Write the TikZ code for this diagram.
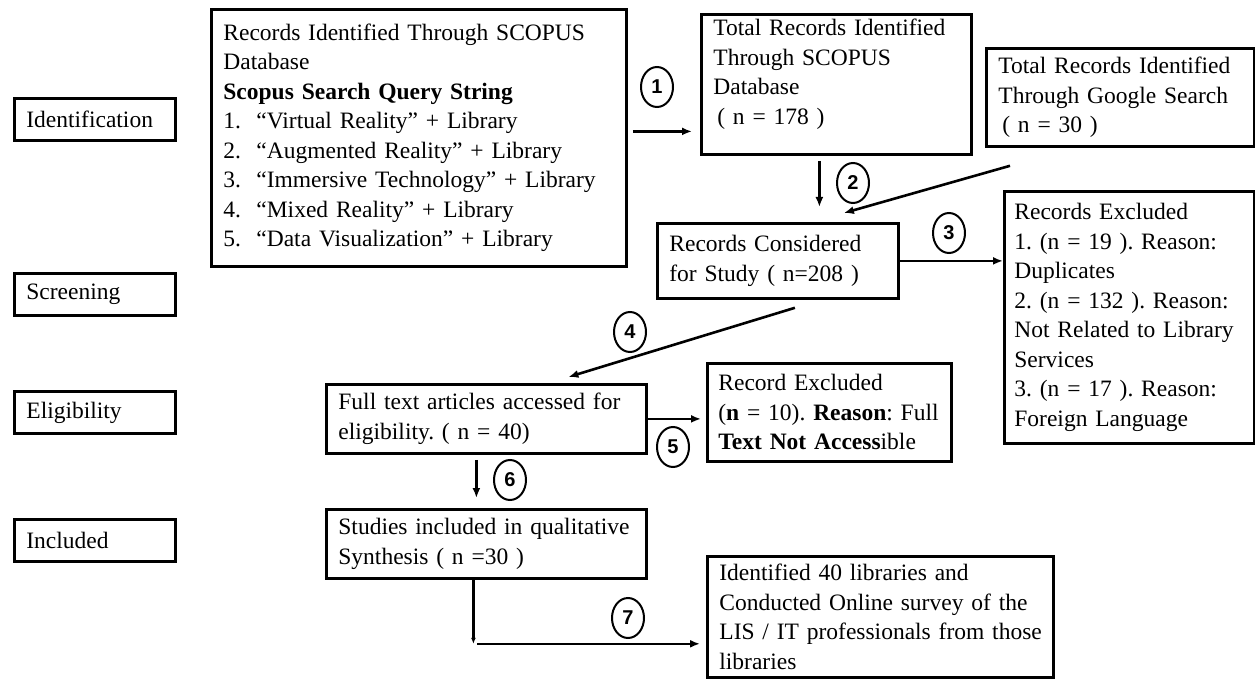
\documentclass[tikz,border=0pt]{standalone}
\usepackage{fontspec}
\setmainfont{Liberation Serif}
\newfontfamily\numfont{Liberation Sans}
\usetikzlibrary{arrows.meta,shapes.geometric,calc}

\tikzset{
	rbox/.style={draw, line width=2.8pt, anchor=north west, inner xsep=12pt, inner ysep=0pt, align=left, font=\fontsize{23.5}{29.5}\selectfont\frenchspacing},
	stage/.style={rbox, text width=137pt, minimum height=42pt},
	num/.style={draw, ellipse, line width=2pt, inner sep=0pt, minimum width=32pt, minimum height=40pt, font=\numfont\bfseries\fontsize{20}{20}\selectfont},
	arr/.style={line width=2.6pt, -{Latex[length=10pt,width=8pt]}},
}

\begin{document}
\begin{tikzpicture}[x=1pt, y=-1pt]
		\useasboundingbox (0,0) rectangle (1255,679);

		% stages
		\node[stage] (ident) at (13,97) {Identification};
		\node[stage] (screen) at (13,272) {Screening};
		\node[stage] (elig) at (13,390) {Eligibility};
		\node[stage] (incl) at (13,518) {Included};

		% boxes
		\node[rbox, text width=391pt, minimum height=257pt] (query) at (210,8) {Records Identified Through SCOPUS\\
			Database\\
			\textbf{Scopus Search Query String}\\
			\makebox[33pt][l]{1.}“Virtual Reality” + Library\\
			\makebox[33pt][l]{2.}“Augmented Reality” + Library\\
			\makebox[33pt][l]{3.}“Immersive Technology” + Library\\
			\makebox[33pt][l]{4.}“Mixed Reality” + Library\\
			\makebox[33pt][l]{5.}“Data Visualization” + Library};
		\node[rbox, text width=246pt, minimum height=140pt] (scopus) at (700,13) {Total Records Identified\\
			Through SCOPUS\\
			Database\\
			\,( n = 178 )\\[-4pt]\mbox{}};
		\node[rbox, text width=244pt, minimum height=98pt] (google) at (985,47) {Total Records Identified\\
			Through Google Search\\
			\,( n = 30 )};
		\node[rbox, text width=217pt, minimum height=75pt] (considered) at (656,222) {Records Considered\\
			for Study ( n=208 )};
		\node[rbox, inner xsep=10pt, text width=230pt, minimum height=252pt] (excluded) at (1003,190) {Records Excluded\\
			1. (n = 19 ). Reason:\\
			Duplicates\\
			2. (n = 132 ). Reason:\\
			\mbox{Not Related to Library}\\
			Services\\
			3. (n = 17 ). Reason:\\
			Foreign Language};
		\node[rbox, text width=296pt, minimum height=69pt] (fulltext) at (325,383) {\mbox{Full text articles accessed for}\\
			eligibility. ( n = 40)};
		\node[rbox, inner xsep=11pt, text width=222pt, minimum height=98pt] (recexcl) at (706,362) {Record Excluded\\
			\mbox{(\textbf{n} = 10). \textbf{Reason}: Full}\\
			\textbf{Text Not Access}ible};
		\node[rbox, text width=296pt, minimum height=69pt] (studies) at (325,508) {\mbox{Studies included in qualitative}\\
			Synthesis ( n =30 )};
		\node[rbox, text width=322pt, minimum height=121pt] (survey) at (706,555) {Identified 40 libraries and\\
			\mbox{Conducted Online survey of the}\\
			\mbox{LIS / IT professionals from those}\\
			libraries};

		% step numbers
		\node[num] (n1) at (657,87) {1};
		\node[num] (n2) at (853,183) {2};
		\node[num] (n3) at (949,233) {3};
		\node[num] (n4) at (630,332) {4};
		\node[num] (n5) at (673,447) {5};
		\node[num] (n6) at (510,480) {6};
		\node[num] (n7) at (628,618) {7};

		% arrows
		\coordinate (p1) at ($(query.east)+(5,-6.5)$);
		\draw[arr, shorten >=8pt] (p1) -- (p1 -| scopus.west);
		\coordinate (p2) at ($(scopus.south)+(-17,0)$);
		\draw[arr, shorten <=5pt, shorten >=15pt] (p2) -- (p2 |- considered.north);
		\draw[arr] ($(google.south west)+(25,18)$) -- ($(considered.north)+(66,-9)$);
		\draw[arr] (considered.east) -- (considered.east -| excluded.west);
		\draw[arr] ($(considered.south)+(17,8)$) -- ($(fulltext.north)+(82,-6)$);
		\draw[arr, shorten >=5pt] (fulltext.east) -- (fulltext.east -| recexcl.west);
		\coordinate (p6) at ($(fulltext.south)+(-10,0)$);
		\draw[arr, shorten <=5pt, shorten >=10pt] (p6) -- (p6 |- studies.north);
		\coordinate (turn) at ($(studies.south)+(-13,64)$);
		\draw[line width=2.6pt, -{Latex[length=6pt,width=5pt]}] ($(studies.south)+(-13,0)$) -- (turn);
		\draw[arr, shorten >=6pt] ([xshift=4pt]turn) -- (turn -| survey.west);
		\end{tikzpicture}
\end{document}
